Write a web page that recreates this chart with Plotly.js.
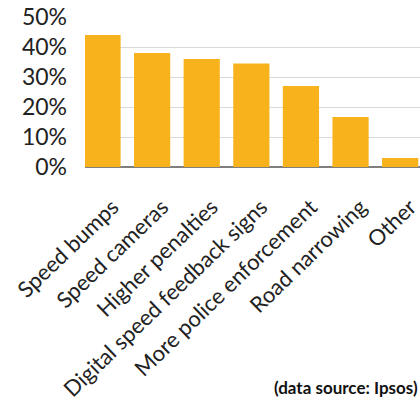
<!DOCTYPE html>
<html><head><meta charset="utf-8">
<script src="https://cdn.plot.ly/plotly-3.0.1.min.js"></script>
<style>html,body{margin:0;padding:0;background:#fff;}#chart{width:420px;height:406px;}</style>
</head><body><div id="chart"></div>
<script>
const categories = ["Speed bumps", "Speed cameras", "Higher penalties", "Digital speed feedback signs", "More police enforcement", "Road narrowing", "Other"];
const values = [0.44, 0.38, 0.36, 0.345, 0.27, 0.167, 0.03];
const tickVals = [0, 0.1, 0.2, 0.3, 0.4, 0.5];
const tickText = ["0%", "10%", "20%", "30%", "40%", "50%"];
const sourceNote = "(data source: Ipsos)";

Plotly.newPlot("chart", [{
  type: "bar",
  x: categories,
  y: values,
  marker: {color: "#F8B31C"},
  hoverinfo: "none"
}], {
  width: 420, height: 406,
  margin: {l: 85, r: 0, t: 17, b: 239},
  paper_bgcolor: "#fff", plot_bgcolor: "#fff",
  bargap: 0.27,
  showlegend: false,
  font: {family: "Lato, 'Open Sans', sans-serif", color: "#222"},
  xaxis: {
    range: [-0.353, 6.40],
    tickangle: -44,
    tickfont: {size: 22, color: "#222"},
    showgrid: false,
    showline: false,
    ticks: "",
    ticklabelstandoff: 22,
    ticklabelshift: 10,
    automargin: false
  },
  yaxis: {
    range: [0, 0.5],
    tickvals: tickVals,
    ticktext: tickText,
    tickfont: {size: 23, color: "#222"},
    showgrid: true,
    gridcolor: "#d9d9d9",
    gridwidth: 1,
    zeroline: true,
    zerolinecolor: "#7f7f7f",
    zerolinewidth: 1.5,
    ticks: "",
    ticklabelstandoff: 17,
    automargin: false
  },
  annotations: [{
    text: "<b>" + sourceNote + "</b>",
    xref: "paper", yref: "paper",
    x: 1, y: -1.47,
    xanchor: "right", yanchor: "middle",
    showarrow: false,
    font: {size: 17, color: "#111"}
  }]
}, {staticPlot: true});
</script></body></html>
